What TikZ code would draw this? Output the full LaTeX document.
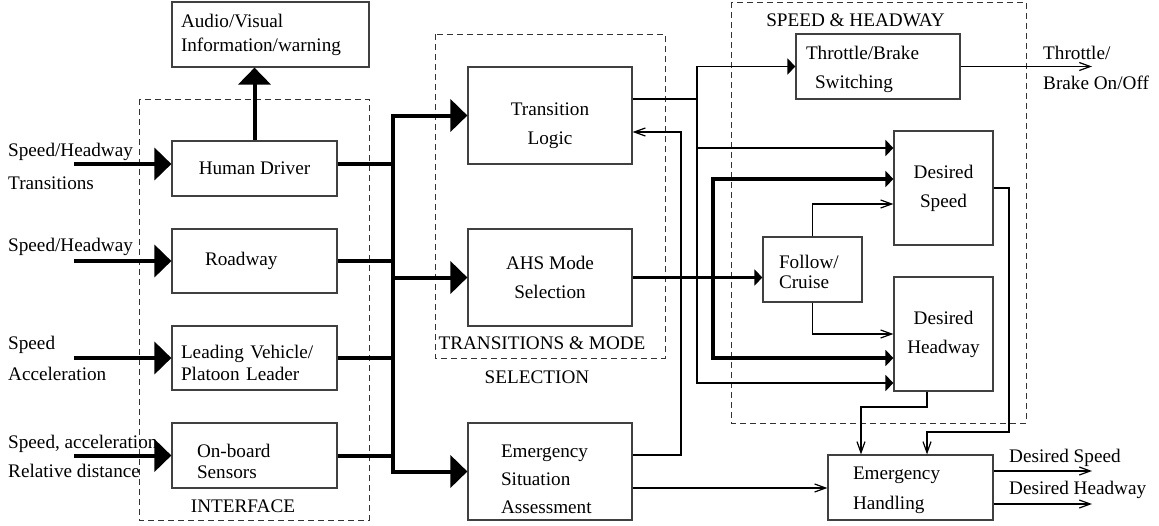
\documentclass[tikz,border=0pt]{standalone}
\usepackage{fontspec}
\setmainfont{Liberation Serif}
\usetikzlibrary{arrows.meta}

\begin{document}
\begin{tikzpicture}[
     x = 1pt, y = -1pt,
     font = \fontsize{19.2}{29}\selectfont,
     lines/.style = {font = \fontsize{19.2}{#1}\selectfont},
     block/.style = {draw = black!75, line width = 1.2pt, inner sep = 0pt, align = center},
     group/.style = {draw = black!80, line width = 1pt, dash pattern = on 6pt off 4pt},
     tag/.style = {inner sep = 0pt, align = left},
     heavy/.tip = {Triangle[length = 17pt, width = 32pt]},
     medium/.tip = {Triangle[length = 8pt, width = 16pt]},
     barb/.tip = {Straight Barb[length = 11pt, width = 8pt]},
     bus/.style = {line width = 4pt},
     bold/.style = {line width = 3.5pt},
     feed/.style = {line width = 1.8pt},
     wire/.style = {line width = 1.2pt, -barb}
    ]
    \useasboundingbox (0,0) rectangle (1159,525);

    \draw[group] (139,99) rectangle (369,520);
    \draw[group] (435,34) rectangle (665,358);
    \draw[group] (731,2) rectangle (1026,423);
    \node[tag] (interface) at (243,506) {INTERFACE};
    \node[tag] (transitions) at (542,343) {TRANSITIONS \& MODE};
    \node[tag] (selection) at (537,377) {SELECTION};
    \node[tag] (control) at (855.5,20) {SPEED \& HEADWAY};

    \node[block, minimum width = 197pt, minimum height = 65pt, text width = 179pt, align = left, lines = 24] (audio) at (270.5,34.5) {Audio/Visual\\Information/warning};
    \node[block, minimum width = 165pt, minimum height = 55pt] (driver) at (254.5,168.5) {Human Driver};
    \node[block, minimum width = 165pt, minimum height = 64pt, text width = 99pt, align = left] (roadway) at (254.5,261) {Roadway};
    \node[block, minimum width = 165pt, minimum height = 64pt, text width = 147pt, align = left, lines = 22] (leader) at (254.5,358) {\rule{0pt}{23pt}Leading Vehicle/\\Platoon Leader};
    \node[block, minimum width = 165pt, minimum height = 65pt, text width = 115pt, align = left, lines = 21] (sensors) at (254.5,455.5) {\rule{0pt}{25pt}On-board\\Sensors};

    \node[block, minimum width = 164pt, minimum height = 97pt] (logic) at (550,115.5) {\rule{0pt}{33pt}Transition\\Logic};
    \node[block, minimum width = 164pt, minimum height = 97pt] (mode) at (550,277.5) {AHS Mode\\Selection};
    \node[block, minimum width = 164pt, minimum height = 97pt, text width = 98pt, align = left, lines = 28] (assess) at (550,471.5) {\rule{0pt}{29pt}Emergency\\Situation\\Assessment};

    \node[block, minimum width = 164pt, minimum height = 65pt, text width = 144pt, align = left] (switch) at (878,66.5) {\rule{0pt}{19pt}Throttle/Brake\\\hspace*{9pt}Switching};
    \node[block, minimum width = 99pt, minimum height = 114pt] (speed) at (943.5,188) {Desired\\Speed};
    \node[block, minimum width = 99pt, minimum height = 114pt] (headway) at (943.5,334) {Desired\\Headway};
    \node[block, minimum width = 99pt, minimum height = 65pt, text width = 67pt, align = left, lines = 20] (follow) at (812.5,269.5) {\rule{0pt}{19pt}Follow/\\Cruise};
    \node[block, minimum width = 165pt, minimum height = 65pt, text width = 115pt, align = left, lines = 30] (handling) at (910.5,487.5) {\rule{0pt}{19pt}Emergency\\Handling};

    % inputs
    \node[tag, anchor = west, lines = 33] (in driver) at (8,166.5) {Speed/Headway\\Transitions};
    \node[tag, anchor = west] (in roadway) at (8,247) {Speed/Headway};
    \node[tag, anchor = west, lines = 31] (in leader) at (8,358.5) {Speed\\Acceleration};
    \node[tag, anchor = west, lines = 29] (in sensors) at (8,456.5) {Speed, acceleration\\Relative distance};
    \coordinate (src) at (74,0);
    \draw[bus, -heavy] ([yshift = 4.5pt]driver.west -| src) -- ([yshift = 4.5pt]driver.west);
    \draw[bus, -heavy] (roadway.west -| src) -- (roadway.west);
    \draw[bus, -heavy] (leader.west -| src) -- (leader.west);
    \draw[bus, -heavy] (sensors.west -| src) -- (sensors.west);
    \draw[bus, -heavy] (driver.north) -- (driver.north |- audio.south);

    % bus
    \coordinate (busbot) at (393,471.5);
    \draw[bus, heavy-heavy] (logic.west) -| (busbot) -- (assess.west);
    \draw[bus, -heavy] (mode.west -| busbot) -- (mode.west);
    \draw[bus] ([yshift = 4.5pt]driver.east) -- ([yshift = 4.5pt]driver.east -| busbot);
    \draw[bus] (roadway.east) -- (roadway.east -| busbot);
    \draw[bus] (leader.east) -- (leader.east -| busbot);
    \draw[bus] (sensors.east) -- (sensors.east -| busbot);

    \coordinate (tjoin) at (697,383);
    \draw[feed, medium-medium] (switch.west) -| (tjoin) -- ([yshift = -49pt]headway.west);
    \draw[feed] ([yshift = 16.5pt]logic.east) -- ([yshift = 16.5pt]logic.east -| tjoin);
    \draw[feed, -medium] ([yshift = 40pt]speed.west -| tjoin) -- ([yshift = 40pt]speed.west);

    \coordinate (mjoin) at (713,358);
    \draw[bold, -medium] (mode.east) -- (mode.east -| follow.west);
    \draw[bold, medium-medium] ([yshift = 9pt]speed.west) -| (mjoin) -- ([yshift = -24pt]headway.west);

    \draw[wire] (follow.north) |- ([yshift = -16pt]speed.west);
    \draw[wire] (follow.south) |- (headway.west);

    \coordinate (back) at (681,132);
    \draw[wire] ([yshift = 16.5pt]assess.east) -| (back) -- ([yshift = -16.5pt]logic.east);
    \draw[wire] ([yshift = -16.5pt]assess.east) -- ([yshift = -16.5pt]assess.east -| handling.west);

    \coordinate (sbend) at (1009,432);
    \draw[wire] (speed.east) -| (sbend) -| ([xshift = 16.5pt]handling.north);
    \coordinate (hbend) at (861,407);
    \draw[wire] ([xshift = -16.5pt]headway.south) |- (hbend) -- (hbend |- handling.north);

    % outputs
    \coordinate (sink) at (1092,0);
    \draw[wire] (switch.east) -- (switch.east -| sink);
    \draw[wire] ([yshift = 16.5pt]handling.east) -- ([yshift = 16.5pt]handling.east -| sink);
    \draw[wire] ([yshift = -16.5pt]handling.east) -- ([yshift = -16.5pt]handling.east -| sink);
    \node[tag, anchor = west, lines = 30] (out switch) at (1043,68) {Throttle/\\Brake On/Off};
    \node[tag, anchor = west] (out speed) at (1009,458) {Desired Speed};
    \node[tag, anchor = west] (out headway) at (1009,490) {Desired Headway};

   \end{tikzpicture}
\end{document}
